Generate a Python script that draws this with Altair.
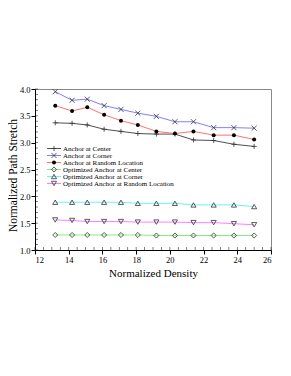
import altair as alt
import pandas as pd

# ---- data ----
density = [13.2, 14.2, 15.1, 16.1, 17.1, 18.1, 19.2, 20.3, 21.4, 22.6, 23.8, 25.0]
anchor_center = [3.37, 3.36, 3.33, 3.25, 3.21, 3.17, 3.16, 3.16, 3.05, 3.04, 2.97, 2.93]
anchor_corner = [3.95, 3.79, 3.81, 3.69, 3.62, 3.55, 3.49, 3.39, 3.39, 3.28, 3.28, 3.27]
anchor_random = [3.69, 3.59, 3.66, 3.52, 3.41, 3.33, 3.21, 3.17, 3.21, 3.14, 3.14, 3.06]
opt_center = [1.28, 1.28, 1.28, 1.28, 1.28, 1.28, 1.27, 1.27, 1.27, 1.27, 1.27, 1.27]
opt_corner = [1.89, 1.89, 1.89, 1.89, 1.89, 1.87, 1.87, 1.87, 1.84, 1.84, 1.84, 1.81]
opt_random = [1.56, 1.55, 1.53, 1.53, 1.53, 1.52, 1.52, 1.52, 1.51, 1.51, 1.49, 1.47]

series_names = [
    "Anchor at Center",
    "Anchor at Corner",
    "Anchor at Random Location",
    "Optimized Anchor at Center",
    "Optimized Anchor at Corner",
    "Optimized Anchor at Random Location",
]
series_values = [anchor_center, anchor_corner, anchor_random, opt_center, opt_corner, opt_random]
line_colors = ["#505050", "#8080ff", "#ff7070", "#80f080", "#70f0f0", "#ff80ff"]
marker_shapes = [
    "M-1,0L1,0M0,-1L0,1",
    "M-1,-1L1,1M-1,1L1,-1",
    "circle",
    "diamond",
    "triangle-up",
    "triangle-down",
]
x_ticks = [12, 14, 16, 18, 20, 22, 24, 26]
y_ticks = [1.0, 1.5, 2.0, 2.5, 3.0, 3.5, 4.0]
x_minor = [12 + 0.5 * i for i in range(29)]
y_minor = [round(1.0 + 0.1 * i, 1) for i in range(31)]
filled_series = "Anchor at Random Location"

rows = []
for name, vals in zip(series_names, series_values):
    for d, v in zip(density, vals):
        rows.append({"density": d, "value": v, "series": name})
df = pd.DataFrame(rows)
legend_df = pd.DataFrame({"series": series_names})

W, H = 236, 161
FONT = "Liberation Serif"

color_scale = alt.Scale(domain=series_names, range=line_colors)
shape_scale = alt.Scale(domain=series_names, range=marker_shapes)

x_axis = alt.Axis(values=x_ticks, title="Normalized Density", grid=False,
                  tickSize=4, labelPadding=1, titlePadding=4,
                  labelFontSize=8.5, titleFontSize=11, titleFontWeight="normal",
                  domainColor="black", tickColor="black", labelColor="black",
                  titleColor="black", labelFont=FONT, titleFont=FONT)
y_axis = alt.Axis(values=y_ticks, format=".1f", title="Normalized Path Stretch", grid=False,
                  tickSize=4, labelPadding=1,
                  titleX=-21.5, titleY=86, titleBaseline="middle", titleAlign="center",
                  labelFontSize=8.5, titleFontSize=11.5, titleFontWeight="normal",
                  domainColor="black", tickColor="black", labelColor="black",
                  titleColor="black", labelFont=FONT, titleFont=FONT)


def xenc(field):
    return alt.X(field, scale=alt.Scale(domain=[12, 26], nice=False, zero=False), axis=x_axis)


def yenc(field):
    return alt.Y(field, scale=alt.Scale(domain=[1, 4], nice=False, zero=False), axis=y_axis)


base = alt.Chart(df)

lines = base.mark_line(strokeWidth=1).encode(
    x=xenc("density:Q"), y=yenc("value:Q"),
    color=alt.Color("series:N", scale=color_scale, legend=None),
    detail="series:N",
)
open_pts = base.transform_filter(alt.datum.series != filled_series).mark_point(
    filled=False, color="#333333", strokeWidth=0.8, size=26, opacity=1
).encode(
    x=xenc("density:Q"), y=yenc("value:Q"),
    shape=alt.Shape("series:N", scale=shape_scale, legend=None),
)
filled_pts = base.transform_filter(alt.datum.series == filled_series).mark_point(
    filled=True, color="#000000", size=16, shape="circle", opacity=1
).encode(x=xenc("density:Q"), y=yenc("value:Q"))

ymin = alt.Chart(pd.DataFrame({"v": y_minor})).mark_tick(
    color="black", thickness=0.7, size=3
).encode(y=yenc("v:Q"), x=alt.value(1.5))
xmin = alt.Chart(pd.DataFrame({"v": x_minor})).mark_tick(
    color="black", thickness=0.7, size=3
).encode(x=xenc("v:Q"), y=alt.value(H - 1.5))

leg_y = alt.Y("series:N", sort=series_names,
              scale=alt.Scale(domain=series_names, range=[56, 98], padding=0),
              axis=None)
leg_base = alt.Chart(legend_df)
leg_lines = leg_base.mark_rule(strokeWidth=1).encode(
    y=leg_y, x=alt.value(12), x2=alt.value(26),
    color=alt.Color("series:N", scale=color_scale, legend=None),
)
leg_open = leg_base.transform_filter(alt.datum.series != filled_series).mark_point(
    filled=False, color="#333333", strokeWidth=0.8, size=26, opacity=1
).encode(
    y=leg_y, x=alt.value(19),
    shape=alt.Shape("series:N", scale=shape_scale, legend=None),
)
leg_filled = leg_base.transform_filter(alt.datum.series == filled_series).mark_point(
    filled=True, color="#000000", size=16, shape="circle", opacity=1
).encode(y=leg_y, x=alt.value(19))
leg_text = leg_base.mark_text(
    align="left", baseline="middle", fontSize=7, font=FONT, color="black"
).encode(y=leg_y, x=alt.value(28), text="series:N")

data_layer = alt.layer(lines, open_pts, filled_pts, ymin, xmin)
legend_layer = alt.layer(leg_lines, leg_open, leg_filled, leg_text)

chart = alt.layer(data_layer, legend_layer).resolve_scale(
    y="independent"
).properties(
    width=W, height=H,
    autosize=alt.AutoSizeParams(type="none"),
    padding={"left": 27, "top": 81, "right": 12, "bottom": 110},
).configure(
    font=FONT, background="white"
).configure_view(
    stroke="#888888", strokeWidth=1
)

chart.save("out.html", embed_options={"renderer": "svg", "actions": False})
